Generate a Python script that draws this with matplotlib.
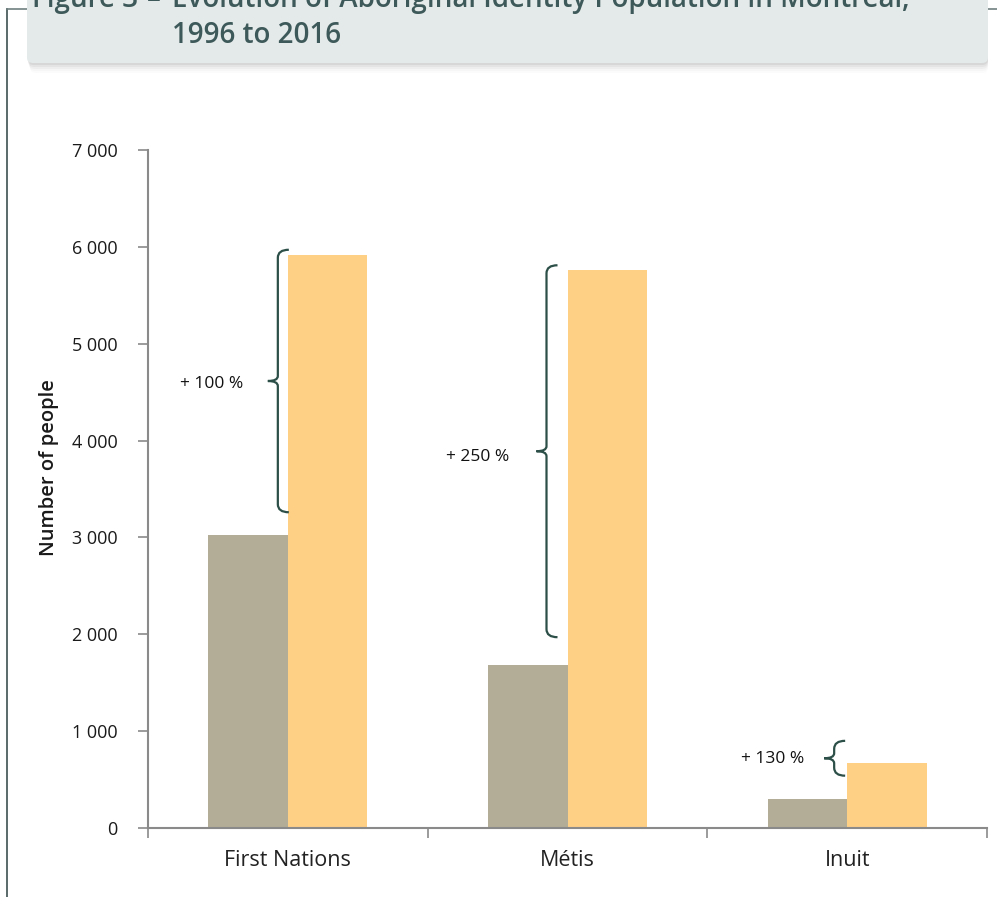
import matplotlib
matplotlib.use("Agg")
import matplotlib.pyplot as plt
from matplotlib.path import Path
from matplotlib.patches import PathPatch, FancyBboxPatch
from matplotlib.lines import Line2D

plt.rcParams['font.family'] = ['Open Sans', 'DejaVu Sans']

# Aboriginal identity population in Montreal
groups = ["First Nations", "Métis", "Inuit"]
pop_1996 = [3025, 1680, 295]
pop_2016 = [5915, 5760, 675]
growth_labels = ["+ 100 %", "+ 250 %", "+ 130 %"]
# vertical extent of each growth brace (people)
brace_top = [5970, 5810, 900]
brace_bottom = [3260, 1970, 540]
y_ticks = [0, 1000, 2000, 3000, 4000, 5000, 6000, 7000]
y_tick_labels = ["0", "1 000", "2 000", "3 000", "4 000", "5 000", "6 000", "7 000"]

W, H = 997, 897
fig = plt.figure(figsize=(W / 100, H / 100), dpi=100)

ax_l, ax_r, ax_b, ax_t = 148, 987, 828, 150
ax = fig.add_axes([ax_l / W, (H - ax_b) / H, (ax_r - ax_l) / W, (ax_b - ax_t) / H])

gray = "#b3ad97"
gold = "#fed086"
slate = "#2c4f47"
axis_col = "#8a8a8a"

x = list(range(len(groups)))
bw = 0.284
ax.bar([i - bw / 2 for i in x], pop_1996, width=bw, color=gray, zorder=2)
ax.bar([i + bw / 2 for i in x], pop_2016, width=bw, color=gold, zorder=2)

ax.set_xlim(-0.5, 2.5)
ax.set_ylim(0, 7000)
for s in ["top", "right"]:
    ax.spines[s].set_visible(False)
for s in ["left", "bottom"]:
    ax.spines[s].set_color(axis_col)
    ax.spines[s].set_linewidth(1.5)

ax.set_yticks(y_ticks)
ax.set_yticklabels(y_tick_labels, fontsize=13, color="#1a1a1a")
ax.tick_params(axis="y", length=7, width=1.2, color=axis_col, pad=15)

ax.set_xticks([-0.5, 0.5, 1.5, 2.5])
ax.set_xticklabels([])
ax.set_xticks(x, minor=True)
ax.set_xticklabels(groups, minor=True, fontsize=15.5, color="#222222")
ax.tick_params(axis="x", which="major", length=7, width=1.2, color=axis_col, direction="out")
ax.tick_params(axis="x", which="minor", length=0, pad=16)

ax.set_ylabel("Number of people", fontsize=14.5, fontweight="semibold", color="#1a1a1a")
ax.yaxis.set_label_coords(-(148 - 59) / (ax_r - ax_l), (828 - 468) / (ax_b - ax_t))

# pixel -> data scale factors for drawing braces
px_x = 3.0 / (ax_r - ax_l)
px_y = 7000.0 / (ax_b - ax_t)

def brace(xb, ytop, ybot, hook=11, tip=10):
    ymid = (ytop + ybot) / 2
    r = 8 * px_y
    t = 5 * px_y
    verts = [
        (xb + hook * px_x, ytop), (xb, ytop), (xb, ytop - r),
        (xb, ymid + t),
        (xb, ymid), (xb - tip * px_x, ymid),
        (xb, ymid), (xb, ymid - t),
        (xb, ybot + r),
        (xb, ybot), (xb + hook * px_x, ybot),
    ]
    codes = [Path.MOVETO, Path.CURVE3, Path.CURVE3,
             Path.LINETO,
             Path.CURVE3, Path.CURVE3,
             Path.CURVE3, Path.CURVE3,
             Path.LINETO,
             Path.CURVE3, Path.CURVE3]
    ax.add_patch(PathPatch(Path(verts, codes), fill=False, edgecolor=slate, lw=1.6, zorder=3))
    return ymid

brace_offsets_px = [10, 21, 13]
label_gap_px = [35, 37, 30]
label_drop_px = [3, 6, 1]
for i in x:
    xb = i - brace_offsets_px[i] * px_x
    ymid = brace(xb, brace_top[i], brace_bottom[i])
    ax.text(xb - label_gap_px[i] * px_x, ymid - label_drop_px[i] * px_y, growth_labels[i],
            ha="right", va="center", fontsize=12.5, color="#111111")

# outer frame
fig.add_artist(Line2D([7 / W, 7 / W], [0, 1 - 9 / H], transform=fig.transFigure,
                      color="#3d4f4f", lw=1.2, zorder=1))
fig.add_artist(Line2D([7 / W, 1], [1 - 9 / H, 1 - 9 / H], transform=fig.transFigure,
                      color="#6f8080", lw=1.2, zorder=1))

# title banner with soft shadow
for k, a in enumerate([0.05, 0.04, 0.03, 0.02, 0.015]):
    off = (k + 1) * 2
    fig.add_artist(FancyBboxPatch((27 / W + off * 0.3 / W, (H - 63 - off) / H),
                                  (961 - off * 0.3) / W, (63 + off) / H,
                                  boxstyle="round,pad=0,rounding_size=0.006",
                                  transform=fig.transFigure, facecolor="black",
                                  edgecolor="none", alpha=a, zorder=3))
fig.add_artist(FancyBboxPatch((27 / W, (H - 63) / H), 961 / W, 70 / H,
                              boxstyle="round,pad=0,rounding_size=0.006",
                              transform=fig.transFigure, facecolor="#e4e9e9",
                              edgecolor="none", zorder=4))

title_col = "#3e5959"
tkw = dict(fontsize=20, fontweight="semibold", color=title_col, va="baseline", zorder=5)
fig.text(32 / W, 1 - 7 / H, "Figure 3", **tkw)
fig.text(147 / W, 1 - 7 / H, "–", **tkw)
fig.text(172 / W, 1 - 7 / H, "Evolution of Aboriginal Identity Population in Montreal,", **tkw)
fig.text(172 / W, 1 - 43 / H, "1996 to 2016", **tkw)

fig.savefig("out.png", dpi=100)
